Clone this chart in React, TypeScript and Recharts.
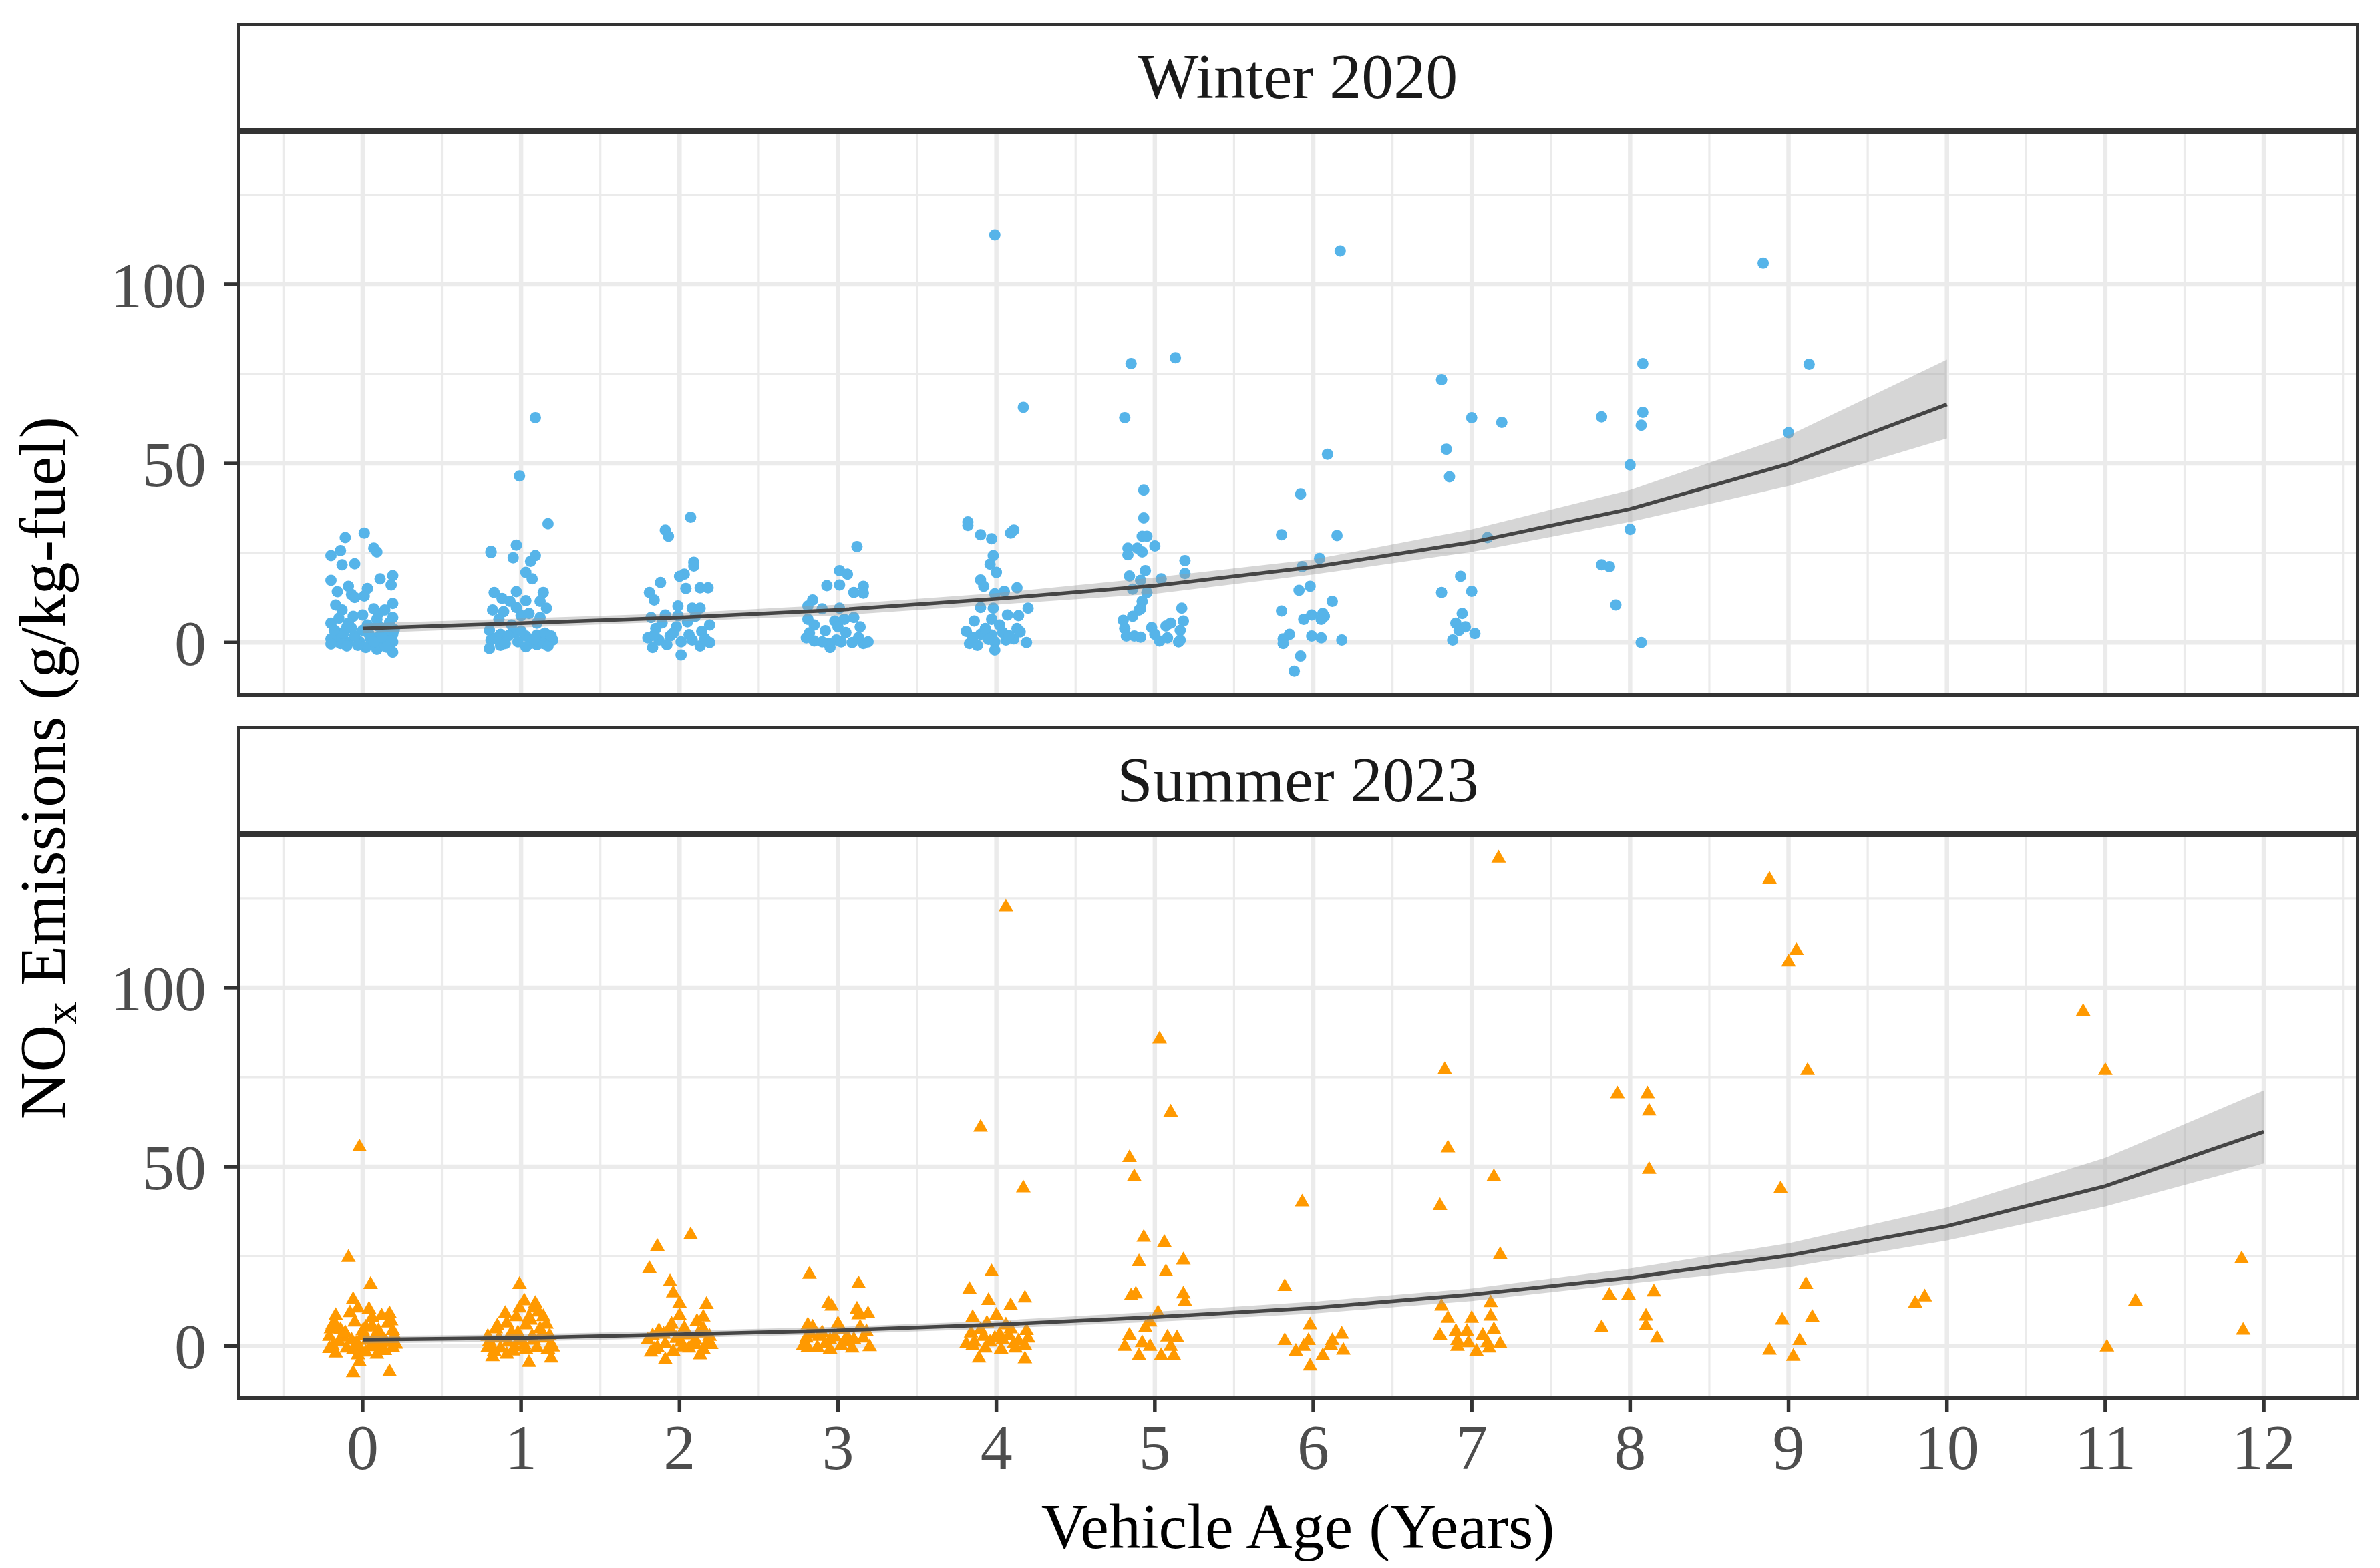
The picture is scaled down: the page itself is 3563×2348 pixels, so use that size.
import { Area, CartesianGrid, ComposedChart, Line, Scatter, XAxis, YAxis } from 'recharts';

const W = 3563;
const H = 2348;
const PLOT_LEFT = 357;
const PLOT_RIGHT = 3529;
const PLOT_H = 842;
const FONT = '"Liberation Serif", "Times New Roman", serif';

const AGE_TICKS = [0, 1, 2, 3, 4, 5, 6, 7, 8, 9, 10, 11, 12];
const AGE_MINOR = [-0.5, 0.5, 1.5, 2.5, 3.5, 4.5, 5.5, 6.5, 7.5, 8.5, 9.5, 10.5, 11.5, 12.5];
const NOX_TICKS = [0, 50, 100];
const NOX_MINOR = [25, 75, 125];
const X_DOMAIN: [number, number] = [-0.784, 12.59];
const Y_DOMAIN: [number, number] = [-14.5, 142.5];

// fitted trend with confidence band, read at whole years
const WINTER_AGES = [0, 1, 2, 3, 4, 5, 6, 7, 8, 9, 10];
const WINTER_FIT = [3.9, 5.4, 7.0, 9.1, 12.2, 15.9, 21.1, 28.0, 37.3, 49.9, 66.5];
const WINTER_LO = [2.6, 4.2, 5.9, 7.6, 10.6, 13.6, 19.0, 25.3, 33.7, 43.7, 57.0];
const WINTER_HI = [5.3, 6.7, 8.2, 10.6, 13.8, 18.2, 23.2, 31.6, 42.6, 57.8, 79.0];

const SUMMER_AGES = [0, 1, 2, 3, 4, 5, 6, 7, 8, 9, 10, 11, 12];
const SUMMER_FIT = [1.7, 2.2, 3.2, 4.3, 5.9, 8.0, 10.6, 14.3, 19.0, 25.2, 33.4, 44.6, 59.8];
const SUMMER_LO = [0.7, 1.2, 2.2, 3.3, 4.8, 6.7, 9.0, 12.5, 17.4, 21.9, 29.4, 38.9, 50.9];
const SUMMER_HI = [2.7, 3.2, 4.2, 5.3, 7.0, 9.5, 12.3, 16.0, 21.6, 28.6, 38.6, 52.5, 71.3];

// [age (jittered), NOx g/kg-fuel]
const WINTER_POINTS: [number, number][] = [
  [0.01, 30.6], [-0.11, 29.3], [-0.14, 25.7], [0.07, 26.4], [0.09, 25.3], [-0.2, 24.3], [-0.05, 22], [-0.13, 21.7],
  [0.19, 18.7], [0.11, 17.8], [-0.2, 17.4], [0.18, 16.1], [-0.09, 15.7], [0.03, 15.1], [-0.16, 14.2], [-0.07, 13.4],
  [-0.05, 12.6], [0.01, 13], [0.19, 10.9], [-0.17, 10.5], [-0.13, 9.1], [0.07, 9.4], [0.14, 9.1], [-0.06, 7.3],
  [0, 7.7], [-0.2, 5.4], [0.09, 6.5], [0.19, 7], [-0.09, 5.4], [0.03, 4.9], [-0.19, 0.7], [-0.14, -0.3],
  [-0.09, 0], [-0.02, 0.2], [0.06, -0.3], [0.12, 0], [0.19, 0.2], [-0.17, 1.8], [-0.05, 1.8], [0.09, 1.3],
  [0.16, 1.8], [0.02, -1.4], [0.09, -1.9], [0.19, -2.7], [-0.1, -1.0], [0.14, -0.8], [-0.16, 2.8], [0, 3.4],
  [0.13, 3.9], [0.19, 2.3], [-0.2, 1.0], [0.05, 1.0], [-0.12, 2.5], [0.17, 0.5], [0.1, 4.5], [-0.07, 4.0],
  [-0.18, 3.5], [-0.1, 4.4], [0.04, 2.4], [0.12, 1.6], [0.2, 3.6], [-0.03, -0.8], [0.15, -1.3], [-0.2, -0.4],
  [0.07, 0.1], [0.17, 5.6], [-0.15, 6.8], [0.1, 8.2],

  [1.09, 62.8], [0.99, 46.5], [1.17, 33.2], [0.97, 27.2], [0.81, 25.5], [0.81, 25.1], [1.09, 24.3], [0.95, 23.7],
  [1.06, 22.7], [1.03, 19.6], [1.07, 17.8], [0.83, 14], [0.97, 14.2], [1.14, 14], [0.88, 12.3], [0.93, 11.5],
  [1.03, 11.7], [1.12, 11.5], [1.16, 9.6], [0.82, 9.1], [0.89, 8.6], [1.0, 7.5], [1.05, 8.1], [0.86, 6.5],
  [0.94, 4.9], [1.1, 5.4], [0.8, 3.4], [0.87, 2.3], [0.96, 2.8], [1.03, 1.8], [1.1, 2.1], [1.17, 1.3],
  [0.81, 0.7], [0.89, 0], [0.98, 0.2], [1.06, -0.3], [1.14, -0.3], [1.2, 0.7], [0.8, -1.7], [0.87, -0.8],
  [1.1, -0.6], [1.17, -1.0], [0.84, 1.2], [0.92, 1.9], [1.0, 3.2], [1.08, 0.9], [1.15, 2.6], [0.9, -0.3],
  [1.03, -1.2], [1.19, 1.8], [0.97, 9.8], [1.12, 7.0],

  [2.07, 35], [1.91, 31.4], [1.93, 29.7], [2.09, 22.4], [2.09, 21.4], [2.03, 19.1], [2.0, 18.5], [1.88, 16.8],
  [2.13, 15.3], [2.18, 15.3], [1.81, 14], [2.04, 15.1], [1.84, 11.9], [1.99, 10.2], [2.08, 9.6], [2.13, 9.6],
  [1.82, 7], [1.91, 7.7], [1.99, 7.5], [2.1, 7.3], [2.19, 4.9], [1.8, 1.3], [1.87, 0.7], [1.94, 1.8],
  [2.01, 0.2], [2.08, 0.7], [2.14, 3.1], [2.19, 0], [1.83, -1.4], [1.92, -0.6], [2.13, -1], [2.01, -3.5],
  [1.98, 4.4], [1.85, 3.9], [1.84, 2.1], [1.96, 2.6], [2.06, 2.2], [2.16, 1.1], [1.89, 5.5], [2.05, 5.8],

  [3.12, 26.8], [3.01, 20.1], [3.06, 19.1], [2.93, 15.9], [3.01, 16.1], [3.16, 15.7], [3.1, 14], [3.16, 13.8],
  [2.84, 11.9], [2.81, 10.2], [2.9, 9.4], [3.01, 9.6], [2.81, 6.5], [2.98, 6], [3.04, 6.5], [3.1, 7],
  [2.85, 4.9], [3.0, 4.4], [3.14, 4.4], [2.8, 1.3], [2.85, 0.4], [2.94, -0.3], [2.99, 0.7], [3.02, 0.2],
  [3.09, 0], [3.16, -0.3], [3.19, 0.2], [2.95, -1.4], [2.9, 0.2], [2.82, 2.7], [2.92, 3.3], [3.05, 2.8],
  [3.13, 1.4],

  [3.99, 113.8], [4.17, 65.7], [3.82, 33.7], [3.82, 32.7], [4.11, 31.4], [4.09, 30.6], [3.9, 30.1], [3.97, 29],
  [3.98, 24.3], [3.96, 21.9], [4.0, 19.6], [3.9, 17.5], [3.92, 15.7], [4.13, 15.3], [4.05, 14.3], [3.99, 13.6],
  [4.2, 9.6], [3.9, 9.8], [3.98, 9.6], [4.07, 7.7], [4.14, 7.5], [3.86, 6], [3.97, 6.5], [4.13, 3.9],
  [3.81, 3.1], [3.9, 2.3], [3.97, 2.1], [4.04, 2.8], [4.11, 1.0], [3.83, -0.3], [3.88, -0.8], [3.99, 0.2],
  [4.06, 0.7], [3.99, -2.1], [4.19, 0], [3.93, 3.9], [4.02, 4.9], [3.85, 1.4], [3.95, 0.9], [4.08, 1.9],
  [4.15, 3.0],

  [4.85, 77.9], [5.13, 79.5], [4.81, 62.8], [4.93, 42.6], [4.93, 34.8], [4.92, 29.7], [4.95, 29.7], [5.0, 27],
  [4.83, 26.4], [4.83, 24.5], [4.89, 26.4], [4.92, 25.3], [5.19, 22.9], [5.19, 19.3], [4.84, 18.6], [4.94, 20.1],
  [4.91, 17.4], [5.04, 17.8], [4.86, 14.9], [4.95, 14], [4.92, 11.5], [5.17, 9.6], [4.9, 9.1], [4.91, 9.4],
  [4.86, 7.3], [4.8, 6.2], [5.18, 6], [4.98, 4.2], [5.07, 4.6], [5.1, 5.4], [5.16, 3.4], [4.81, 3.9],
  [4.82, 1.8], [4.87, 1.8], [4.91, 1.5], [5.0, 2.3], [5.03, 0.4], [5.08, 1.3], [5.15, 0.2], [5.16, 0.7],

  [6.17, 109.3], [6.09, 52.6], [5.92, 41.5], [5.8, 30.1], [6.15, 29.9], [6.04, 23.5], [5.93, 21.2], [5.91, 14.6],
  [5.98, 15.7], [6.12, 11.5], [5.8, 8.8], [5.94, 6.5], [5.99, 7.7], [6.06, 8.1], [6.07, 7.3], [6.05, 6.5],
  [5.85, 2.3], [5.99, 1.8], [6.05, 1.3], [6.18, 0.7], [5.81, 1], [5.81, -0.3], [5.92, -3.8], [5.88, -8],

  [6.81, 73.4], [7.0, 62.8], [7.19, 61.5], [6.84, 54], [6.86, 46.3], [7.1, 29.3], [6.93, 18.5], [6.81, 14],
  [7.0, 14.3], [6.94, 8.1], [6.9, 5.4], [6.96, 4.4], [6.92, 3.4], [7.02, 2.5], [6.88, 0.7],

  [8.08, 77.9], [7.82, 63], [8.08, 64.3], [8.07, 60.7], [8.0, 49.6], [8.0, 31.6], [7.82, 21.7], [7.87, 21.2],
  [7.91, 10.5], [8.07, 0],

  [8.84, 105.9], [9.13, 77.7], [9.0, 58.6],
];

const SUMMER_POINTS: [number, number][] = [
  [-0.02, 55.5], [-0.09, 24.6], [0.05, 17.1], [-0.06, 12.9], [-0.03, 10.5], [-0.17, 8.4], [0.17, 8.9], [0.06, 7.9],
  [0.16, 6.3], [-0.05, 6.6], [-0.2, 4.7], [-0.14, 4.5], [0.02, 5.2], [0.1, 4.2], [0.19, 4.2], [-0.21, 2.6],
  [-0.12, 2.4], [-0.07, 1.6], [0, 2.8], [0.07, 2.1], [0.14, 1.4], [0.19, 1.8], [-0.19, 0], [-0.1, -0.7],
  [-0.02, -0.5], [0.05, -0.3], [0.12, -0.7], [0.19, -0.5], [-0.17, -2.1], [-0.03, -2.6], [-0.02, -4.5], [-0.06, -7.6],
  [0.17, -7.3], [0.09, -2.4], [0.02, -1.8], [-0.18, 6.5], [-0.08, 9.2], [0.04, 10.2], [0.12, 8.3], [-0.15, 1.2],
  [-0.04, 0.6], [0.03, 1.5], [0.08, 0.3], [0.15, 0.9], [0.21, 0.4], [-0.21, -0.8], [-0.11, 3.6], [0.0, 4.1],
  [0.11, 3.2], [0.2, 2.9], [-0.19, 5.8], [0.06, 5.5], [0.14, -1.4], [-0.06, -1.2], [0.18, 6.9],

  [0.99, 17.1], [0.99, 10.5], [1.09, 11.8], [1.08, 10.5], [1.11, 9.4], [0.97, 8.1], [1.05, 7.9], [1.14, 8.1],
  [0.84, 4.7], [0.91, 6.3], [1.03, 5.8], [1.12, 4.7], [0.79, 2.6], [0.86, 2.1], [0.94, 3.7], [1.0, 1.4],
  [1.07, 2.6], [1.15, 2.1], [1.19, 0.5], [0.79, -0.5], [0.87, -0.7], [0.96, -0.3], [1.03, -1], [1.1, -0.5],
  [1.17, -1], [0.91, -2.4], [0.82, -3.1], [1.05, -4.7], [1.19, -3.5], [0.8, 1.2], [0.85, 5.5], [0.92, 1.0],
  [0.98, 3.6], [1.02, 0.2], [1.08, 1.5], [1.13, 3.2], [1.18, 2.8], [1.2, -0.4], [0.83, -1.6], [0.95, -1.5],
  [1.06, 7.1], [0.9, 9.0], [1.16, 6.0], [1.02, 12.5],

  [2.07, 30.9], [1.86, 27.7], [1.81, 21.5], [1.94, 17.8], [1.96, 14.7], [2.0, 11.8], [2.17, 11.5], [2.0, 8.4],
  [2.11, 6.8], [1.87, 4.2], [1.94, 4.7], [2.03, 4.9], [2.15, 4.7], [2.19, 2.6], [1.8, 1.6], [1.91, 0.5],
  [2.01, 1], [2.1, 1.6], [2.2, 0.3], [1.84, -1], [1.96, -1.6], [2.06, -0.7], [2.15, -1], [1.82, -1.8],
  [2.13, -2.6], [1.91, -3.9], [1.83, 2.8], [1.9, 3.2], [1.98, 2.0], [2.05, 3.0], [2.12, 3.5], [2.18, 1.2],
  [1.86, -0.5], [2.02, -0.4], [2.1, 0.3], [1.95, 6.0], [2.15, 8.0],

  [2.82, 19.9], [3.13, 17.3], [2.94, 11.8], [2.96, 11], [3.13, 8.6], [3.19, 8.9], [2.81, 5.8], [2.84, 5.2],
  [3.02, 4.5], [3.14, 5.2], [2.8, 2.1], [2.88, 2.6], [2.95, 1.6], [3.06, 2.4], [3.16, 2.1], [2.78, 0],
  [2.87, -0.5], [2.95, -1], [3.02, 0], [3.09, -0.7], [3.2, -0.3], [2.81, -0.5], [2.92, 0.5], [2.83, 3.2],
  [2.9, 3.6], [2.98, 2.5], [3.04, 1.2], [3.1, 1.8], [3.18, 3.9], [3.0, 6.1], [3.12, 10.2],

  [4.06, 122.5], [3.9, 61], [4.17, 44], [3.97, 20.6], [3.83, 15.7], [3.95, 12.6], [4.09, 11.2], [4.18, 13.3],
  [3.85, 7.9], [3.94, 6.3], [4.06, 5.8], [4.09, 4.7], [4.19, 4.2], [3.81, 0.5], [3.86, 1], [3.92, 2.6],
  [3.99, 2.1], [4.04, 1.6], [4.11, 0.5], [4.2, 2.1], [3.85, 0], [3.93, -0.7], [4.03, -1], [4.12, -0.7],
  [4.18, 0], [3.89, -3.5], [4.18, -3.7], [4.02, 3.1], [3.84, 3.5], [3.9, 4.5], [3.96, 1.0], [4.08, 2.8],
  [4.14, 1.3], [4.0, 8.5],

  [5.03, 85.6], [5.1, 65.2], [4.84, 52.5], [4.87, 47.2], [4.93, 30.2], [5.06, 28.8], [5.18, 23.9], [4.9, 23.4],
  [5.07, 20.6], [4.85, 13.9], [4.88, 14.4], [5.18, 14.4], [5.19, 12.3], [5.02, 9.2], [4.97, 6.6], [4.94, 5],
  [4.84, 2.9], [4.92, 0.8], [4.97, -0.2], [5.08, 2.4], [5.14, 2.2], [5.1, -0.2], [4.81, -0.2], [4.9, -2.8],
  [5.04, -2.8], [5.12, -2.8],

  [5.93, 40.1], [5.82, 16.5], [5.98, 5.8], [6.18, 3.2], [5.82, 1.4], [5.97, 1.4], [6.12, 1.4], [6.11, 0.1],
  [5.89, -1.6], [6.06, -2.8], [6.19, -1.3], [5.98, -5.7], [5.94, -0.2],

  [7.17, 136.1], [6.83, 77], [6.85, 55.2], [6.8, 39.1], [7.14, 47.2], [7.18, 25.4], [6.81, 11], [7.12, 12],
  [6.85, 7.6], [7.0, 7.6], [7.12, 8.2], [6.8, 2.9], [6.9, 4], [6.97, 4], [7.07, 2.9], [7.14, 4.5],
  [6.91, 1.4], [6.98, 0.8], [7.1, 0.8], [7.18, 0.5], [7.03, -1.6], [7.11, -0.7], [6.91, -0.2],

  [7.92, 70.3], [8.11, 70.3], [8.12, 65.5], [8.12, 49.2], [7.87, 14.1], [7.99, 14.1], [8.15, 15], [8.1, 8.2],
  [8.1, 5.5], [7.82, 5], [8.17, 2.1],

  [8.88, 130.2], [9.05, 110.3], [9.0, 107.1], [9.12, 76.8], [8.95, 43.8], [9.11, 17.1], [9.15, 7.9], [8.96, 7.1],
  [9.07, 1.4], [8.88, -1.3], [9.03, -3],

  [9.8, 11.8], [9.86, 13.6],

  [10.86, 93.3], [11.0, 76.8], [11.19, 12.4], [11.01, -0.4],

  [11.86, 24.2], [11.87, 4.3],
];

const toFit = (ages: number[], fit: number[], lo: number[], hi: number[]) =>
  ages.map((age, i) => ({ age, fit: fit[i], band: [lo[i], hi[i]] }));
const toPoints = (pts: [number, number][]) => pts.map(([age, nox]) => ({ age, nox }));

const BlueDot = (props: any) => <circle cx={props.cx} cy={props.cy} r={8.5} fill="#56B4E9" />;

const OrangeTriangle = (props: any) => {
  const { cx, cy } = props;
  const s = 22;
  const h = s * 0.866;
  const pts = `${cx},${cy - (2 * h) / 3} ${cx - s / 2},${cy + h / 3} ${cx + s / 2},${cy + h / 3}`;
  return <polygon points={pts} fill="#FF9900" />;
};

type PanelProps = {
  top: number;
  title: string;
  fitData: { age: number; fit: number; band: number[] }[];
  points: { age: number; nox: number }[];
  shape: any;
  showX: boolean;
};

const BORDER = 5;

function Panel({ top, title, fitData, points, shape, showX }: PanelProps) {
  const xAxisH = showX ? 140 : 0;
  const tickStyle = { fontFamily: FONT, fontSize: 96, fill: '#4d4d4d' };
  return (
    <>
      <div style={{ position: 'absolute', left: 0, top }}>
        <ComposedChart
          width={W}
          height={PLOT_H + xAxisH}
          data={fitData}
          margin={{ top: 0, right: W - PLOT_RIGHT, bottom: 0, left: 157 }}
        >
          <CartesianGrid
            stroke="#ebebeb"
            strokeWidth={3.2}
            verticalValues={AGE_MINOR}
            horizontalValues={NOX_MINOR}
          />
          <CartesianGrid
            stroke="#ebebeb"
            strokeWidth={6.5}
            verticalValues={AGE_TICKS}
            horizontalValues={NOX_TICKS}
          />
          <XAxis
            type="number"
            dataKey="age"
            domain={X_DOMAIN}
            ticks={AGE_TICKS}
            allowDataOverflow
            hide={!showX}
            height={xAxisH}
            axisLine={false}
            tickSize={22}
            tickMargin={17}
            tickLine={{ stroke: '#333333', strokeWidth: 5.5 }}
            tick={tickStyle}
            interval={0}
          />
          <YAxis
            type="number"
            domain={Y_DOMAIN}
            ticks={NOX_TICKS}
            allowDataOverflow
            width={200}
            axisLine={false}
            tickSize={22}
            tickMargin={26}
            tickLine={{ stroke: '#333333', strokeWidth: 5.5 }}
            tick={tickStyle}
            interval={0}
          />
          <Scatter
            data={points}
            dataKey="nox"
            shape={shape}
            isAnimationActive={false}
            zIndex={50}
          />
          <Area
            type="linear"
            dataKey="band"
            fill="#999999"
            fillOpacity={0.4}
            stroke="none"
            isAnimationActive={false}
            zIndex={100}
          />
          <Line
            type="linear"
            dataKey="fit"
            stroke="#454545"
            strokeWidth={5.5}
            dot={false}
            isAnimationActive={false}
            zIndex={400}
          />
        </ComposedChart>
      </div>
      {/* panel border */}
      <div
        style={{
          position: 'absolute',
          left: PLOT_LEFT - BORDER / 2,
          top: top - BORDER / 2,
          width: PLOT_RIGHT - PLOT_LEFT + BORDER,
          height: PLOT_H + BORDER,
          boxSizing: 'border-box',
          border: `${BORDER}px solid #333333`,
          pointerEvents: 'none',
        }}
      />
      {/* facet strip */}
      <div
        style={{
          position: 'absolute',
          left: PLOT_LEFT - BORDER / 2,
          top: top - 164,
          width: PLOT_RIGHT - PLOT_LEFT + BORDER,
          height: 164 - BORDER / 2,
          boxSizing: 'border-box',
          border: `${BORDER}px solid #333333`,
          background: '#ffffff',
          display: 'flex',
          alignItems: 'center',
          justifyContent: 'center',
          fontFamily: FONT,
          fontSize: 96,
          color: '#1a1a1a',
        }}
      >
        {title}
      </div>
    </>
  );
}

export default function App() {
  const winterFit = toFit(WINTER_AGES, WINTER_FIT, WINTER_LO, WINTER_HI);
  const summerFit = toFit(SUMMER_AGES, SUMMER_FIT, SUMMER_LO, SUMMER_HI);

  return (
    <div
      style={{
        position: 'absolute',
        left: 0,
        top: 0,
        width: W,
        height: H,
        background: '#ffffff',
        overflow: 'hidden',
      }}
    >
      <Panel
        top={198}
        title="Winter 2020"
        fitData={winterFit}
        points={toPoints(WINTER_POINTS)}
        shape={BlueDot}
        showX={false}
      />
      <Panel
        top={1251}
        title="Summer 2023"
        fitData={summerFit}
        points={toPoints(SUMMER_POINTS)}
        shape={OrangeTriangle}
        showX
      />
      <div
        style={{
          position: 'absolute',
          left: 70,
          top: 1150,
          transform: 'translate(-50%, -50%) rotate(-90deg)',
          whiteSpace: 'nowrap',
          fontFamily: FONT,
          fontSize: 98,
          lineHeight: 1,
          color: '#000000',
        }}
      >
        NO<sub style={{ fontSize: '0.7em', verticalAlign: '-0.25em' }}>x</sub> Emissions (g/kg-fuel)
      </div>
      <div
        style={{
          position: 'absolute',
          left: (PLOT_LEFT + PLOT_RIGHT) / 2,
          top: 2238,
          transform: 'translateX(-50%)',
          whiteSpace: 'nowrap',
          fontFamily: FONT,
          fontSize: 96,
          lineHeight: 1,
          color: '#000000',
        }}
      >
        Vehicle Age (Years)
      </div>
    </div>
  );
}
